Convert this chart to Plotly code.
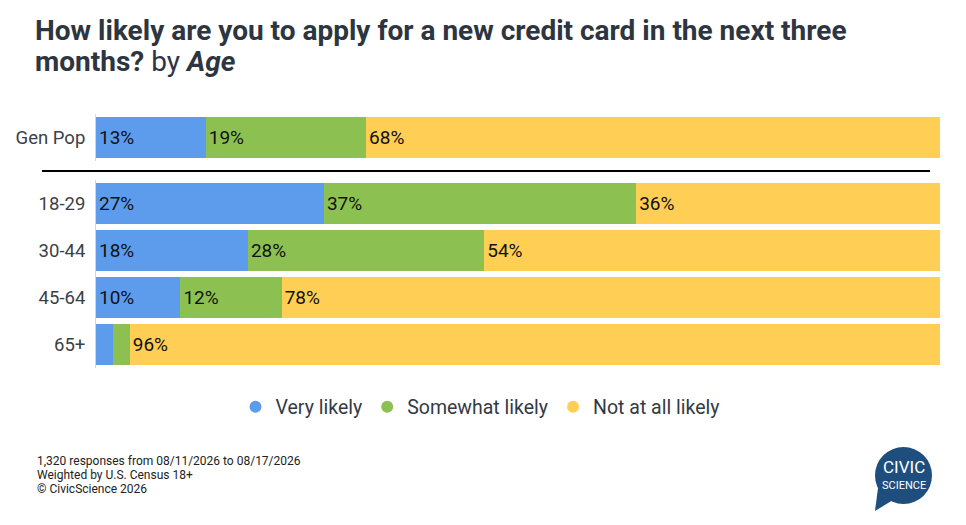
import plotly.graph_objects as go

# data
gen_label = ["Gen Pop"]
age_labels = ["18-29", "30-44", "45-64", "65+"]
series = ["Very likely", "Somewhat likely", "Not at all likely"]
colors = ["#5D9CEC", "#8CC152", "#FFCE54"]

gen_values = {
    "Very likely": [13],
    "Somewhat likely": [19],
    "Not at all likely": [68],
}
age_values = {
    "Very likely": [27, 18, 10, 2],
    "Somewhat likely": [37, 28, 12, 2],
    "Not at all likely": [36, 54, 78, 96],
}

W, H = 966, 525
ML, MR, MT, MB = 96, 26, 110, 155
plot_h = H - MT - MB


def py(p):
    # pixel row -> paper y
    return (H - MB - p) / plot_h


def px(p):
    return (p - ML) / (W - ML - MR)


def lbl(v):
    return f"{v}%" if v >= 5 else ""


fig = go.Figure()

for name, col in zip(series, colors):
    fig.add_trace(go.Bar(
        x=gen_values[name], y=gen_label, orientation="h", name=name,
        marker=dict(color=col, line=dict(width=0)),
        text=[lbl(v) for v in gen_values[name]],
        textposition="inside", insidetextanchor="start",
        textfont=dict(color="#111111", size=19),
        showlegend=False, hoverinfo="x+name",
        xaxis="x", yaxis="y",
    ))
    fig.add_trace(go.Bar(
        x=age_values[name], y=age_labels, orientation="h", name=name,
        marker=dict(color=col, line=dict(width=0)),
        text=[lbl(v) for v in age_values[name]],
        textposition="inside", insidetextanchor="start",
        textfont=dict(color="#111111", size=19),
        showlegend=False, hoverinfo="x+name",
        xaxis="x", yaxis="y2",
    ))
    # legend entries with round markers
    fig.add_trace(go.Scatter(
        x=[None], y=[None], mode="markers", name=name,
        marker=dict(color=col, size=16, symbol="circle"),
        xaxis="x", yaxis="y2",
    ))

fig.update_layout(
    width=W, height=H,
    barmode="stack", bargap=0.128,
    plot_bgcolor="white", paper_bgcolor="white",
    margin=dict(l=ML, r=MR, t=MT, b=MB),
    font=dict(family="Roboto, Arial, sans-serif", color="#333a45"),
    uniformtext=dict(minsize=12, mode="show"),
    xaxis=dict(range=[0, 100], visible=False, fixedrange=True),
    yaxis=dict(
        domain=[py(161), py(114)], autorange="reversed",
        showline=True, linecolor="#d6d6d6", linewidth=1,
        showgrid=False, ticks="", ticklabelstandoff=6,
        tickfont=dict(size=18.5, color="#3b3f47"),
    ),
    yaxis2=dict(
        domain=[py(368), py(180)], autorange="reversed",
        showline=True, linecolor="#d6d6d6", linewidth=1,
        showgrid=False, ticks="", ticklabelstandoff=6,
        tickfont=dict(size=18.5, color="#3b3f47"),
    ),
    legend=dict(
        orientation="h", x=0.455, xanchor="center", y=py(407), yanchor="middle",
        font=dict(size=19.5, color="#333a45"), itemsizing="constant",
        traceorder="normal", itemwidth=30,
    ),
    showlegend=True,
)

# title as two left-aligned lines
title_lines = ["<b>How likely are you to apply for a new credit card in the next three</b>",
               "<b>months?</b> by <b><i>Age</i></b>"]
for i, t in enumerate(title_lines):
    fig.add_annotation(text=t, xref="paper", yref="paper",
                       x=px(33), y=py(31 + i * 30), xanchor="left", yanchor="middle",
                       showarrow=False, font=dict(size=28, color="#2d3540"))

# separator between Gen Pop and age groups
fig.add_shape(type="line", xref="paper", yref="paper",
              x0=px(42), x1=px(930), y0=py(171), y1=py(171),
              line=dict(color="black", width=2))

footer = ["1,320 responses from 08/11/2026 to 08/17/2026",
          "Weighted by U.S. Census 18+",
          "© CivicScience 2026"]
for i, t in enumerate(footer):
    fig.add_annotation(text=t, xref="paper", yref="paper",
                       x=px(35), y=py(461 + i * 14), xanchor="left", yanchor="middle",
                       showarrow=False, font=dict(size=12, color="#222222"))

# logo: speech bubble
fig.add_shape(type="circle", xref="paper", yref="paper",
              x0=px(875), x1=px(932), y0=py(504), y1=py(447),
              fillcolor="#1d4e7e", line=dict(width=0), layer="above")
fig.add_shape(type="path", xref="paper", yref="paper",
              path=f"M {px(878)} {py(488)} L {px(875)} {py(511)} L {px(893)} {py(500)} Z",
              fillcolor="#1d4e7e", line=dict(width=0), layer="above")
fig.add_annotation(text="CIVIC", xref="paper", yref="paper", x=px(904), y=py(467),
                   xanchor="center", yanchor="middle",
                   showarrow=False, font=dict(size=17, color="white", family="Roboto"))
fig.add_annotation(text="SCIENCE", xref="paper", yref="paper", x=px(904), y=py(485),
                   xanchor="center", yanchor="middle",
                   showarrow=False, font=dict(size=11, color="white", family="Roboto"))

fig.write_html("out.html", config={"displayModeBar": False},
               post_script="document.body.style.margin='0';")
